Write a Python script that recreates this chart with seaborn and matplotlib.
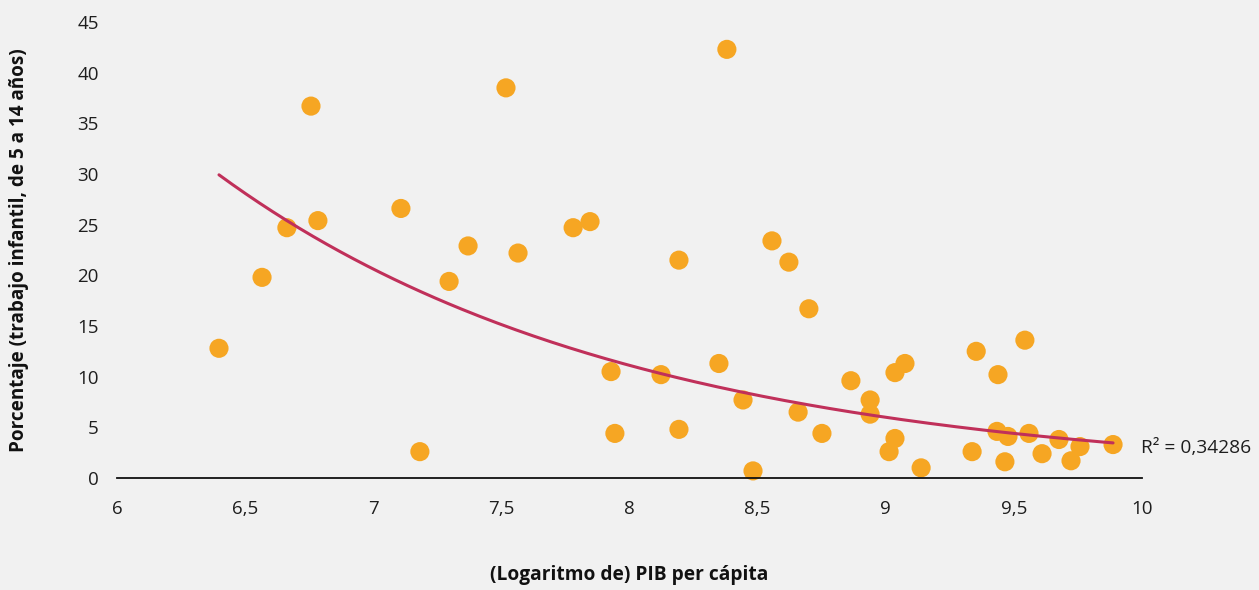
import numpy as np
import pandas as pd
import matplotlib
matplotlib.use("Agg")
import matplotlib.pyplot as plt
import seaborn as sns

# Log GDP per capita and share of children aged 5-14 in child labour
log_gdp = [6.398, 6.566, 6.663, 6.757, 6.784, 7.108, 7.182, 7.296, 7.370, 7.518,
           7.565, 7.780, 7.846, 7.928, 7.943, 8.123, 8.193, 8.193, 8.349, 8.380,
           8.443, 8.482, 8.556, 8.622, 8.658, 8.700, 8.751, 8.864, 8.939, 8.939,
           9.013, 9.036, 9.036, 9.075, 9.138, 9.337, 9.353, 9.434, 9.438, 9.465,
           9.477, 9.543, 9.559, 9.610, 9.676, 9.723, 9.758, 9.887]
child_labour = [12.8, 19.8, 24.7, 36.7, 25.4, 26.6, 2.6, 19.4, 22.9, 38.5,
                22.2, 24.7, 25.3, 10.5, 4.4, 10.2, 21.5, 4.8, 11.3, 42.3,
                7.7, 0.7, 23.4, 21.3, 6.5, 16.7, 4.4, 9.6, 7.7, 6.3,
                2.6, 10.4, 3.9, 11.3, 1.0, 2.6, 12.5, 4.6, 10.2, 1.6,
                4.1, 13.6, 4.4, 2.4, 3.8, 1.7, 3.1, 3.3]
r2_label = "R² = 0,34286"
x_ticks = [6, 6.5, 7, 7.5, 8, 8.5, 9, 9.5, 10]
x_tick_labels = ["6", "6,5", "7", "7,5", "8", "8,5", "9", "9,5", "10"]
y_ticks = [0, 5, 10, 15, 20, 25, 30, 35, 40, 45]

df = pd.DataFrame({"x": log_gdp, "y": child_labour})

sns.set_theme(style="white")
plt.rcParams["font.family"] = ["Open Sans", "DejaVu Sans"]

bg = "#f1f1f1"
fig = plt.figure(figsize=(12.59, 5.90), dpi=100, facecolor=bg)
ax = fig.add_axes([117 / 1259, 112 / 590, 1025 / 1259, 456 / 590], facecolor=bg)

# Exponential trend line fitted on log(y)
b, log_a = np.polyfit(df["x"], np.log(df["y"]), 1)
xs = np.linspace(df["x"].min(), df["x"].max(), 200)
trend = pd.DataFrame({"x": xs, "y": np.exp(log_a) * np.exp(b * xs)})

sns.scatterplot(data=df, x="x", y="y", ax=ax, color="#f6a623", s=190,
                edgecolor="none", linewidth=0, zorder=3, clip_on=False)
sns.lineplot(data=trend, x="x", y="y", ax=ax, color="#c0305a", linewidth=2.2,
             zorder=4)

ax.set_xlim(6, 10)
ax.set_ylim(0, 45)
ax.set_xticks(x_ticks)
ax.set_xticklabels(x_tick_labels)
ax.set_yticks(y_ticks)
ax.tick_params(axis="both", length=0, labelsize=13.5, colors="#1e1e1e")
ax.tick_params(axis="x", pad=16)
ax.tick_params(axis="y", pad=13)

for side in ["top", "right", "left"]:
    ax.spines[side].set_visible(False)
ax.spines["bottom"].set_color("#111111")
ax.spines["bottom"].set_linewidth(1.3)
ax.spines["bottom"].set_zorder(5)

ax.set_xlabel("(Logaritmo de) PIB per cápita", fontsize=13.8,
              fontweight="bold", color="#111111")
ax.xaxis.set_label_coords(0.5, -0.213)
ax.xaxis.label.set_verticalalignment("center")
ax.set_ylabel("Porcentaje (trabajo infantil, de 5 a 14 años)", fontsize=13.6,
              fontweight="bold", color="#111111")
ax.yaxis.set_label_coords(-0.096, 0.5)
ax.yaxis.label.set_verticalalignment("center")

ax.text(0.999, 0.066, r2_label, transform=ax.transAxes, ha="left", va="center",
        fontsize=13.8, color="#1e1e1e")

fig.savefig("out.png", dpi=100, facecolor=bg)
